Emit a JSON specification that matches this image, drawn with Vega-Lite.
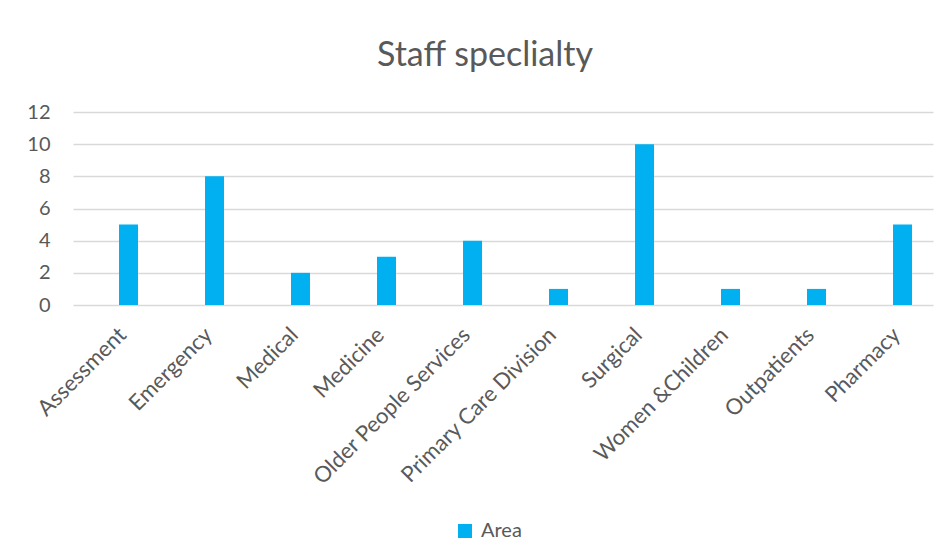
{
  "$schema": "https://vega.github.io/schema/vega-lite/v6.json",
  "width": 860,
  "height": 193,
  "autosize": {"type": "none"},
  "padding": {"left": 73, "top": 112, "right": 18, "bottom": 255},
  "background": "white",
  "title": {
    "text": "Staff speclialty",
    "font": "Lato",
    "fontSize": 34,
    "fontWeight": "normal",
    "color": "#595959",
    "anchor": "middle",
    "frame": "group",
    "baseline": "alphabetic",
    "offset": 2,
    "dx": -18
  },
  "data": {
    "values": [
      {"specialty": "Assessment", "count": 5, "series": "Area"},
      {"specialty": "Emergency", "count": 8, "series": "Area"},
      {"specialty": "Medical", "count": 2, "series": "Area"},
      {"specialty": "Medicine", "count": 3, "series": "Area"},
      {"specialty": "Older People Services", "count": 4, "series": "Area"},
      {"specialty": "Primary Care Division", "count": 1, "series": "Area"},
      {"specialty": "Surgical", "count": 10, "series": "Area"},
      {"specialty": "Women &Children", "count": 1, "series": "Area"},
      {"specialty": "Outpatients", "count": 1, "series": "Area"},
      {"specialty": "Pharmacy", "count": 5, "series": "Area"}
    ]
  },
  "mark": {"type": "bar"},
  "encoding": {
    "x": {
      "field": "specialty",
      "type": "nominal",
      "sort": null,
      "scale": {"paddingInner": 0.779, "paddingOuter": 0.3895, "align": 0.687},
      "axis": {
        "title": null,
        "labelAngle": -45,
        "labelAlign": "right",
        "labelBaseline": "middle",
        "labelPadding": 26,
        "labelOffset": -6,
        "labelLimit": 0,
        "labelFont": "Lato",
        "labelFontSize": 22,
        "labelColor": "#595959",
        "ticks": false,
        "domain": false,
        "grid": false
      }
    },
    "y": {
      "field": "count",
      "type": "quantitative",
      "scale": {"domain": [0, 12], "nice": false},
      "axis": {
        "title": null,
        "values": [0, 2, 4, 6, 8, 10, 12],
        "labelFont": "Lato",
        "labelFontSize": 20,
        "labelColor": "#595959",
        "labelPadding": 23,
        "ticks": false,
        "domain": false,
        "grid": true,
        "gridColor": "#D9D9D9",
        "gridWidth": 1.3
      }
    },
    "color": {
      "field": "series",
      "type": "nominal",
      "scale": {"range": ["#00B0F0"]},
      "legend": {
        "title": null,
        "orient": "none",
        "legendX": 382,
        "legendY": 409,
        "symbolType": "square",
        "symbolSize": 196,
        "symbolStrokeWidth": 0,
        "labelFont": "Lato",
        "labelFontSize": 20,
        "labelColor": "#595959",
        "labelOffset": 6
      }
    }
  },
  "config": {"view": {"stroke": null}}
}
